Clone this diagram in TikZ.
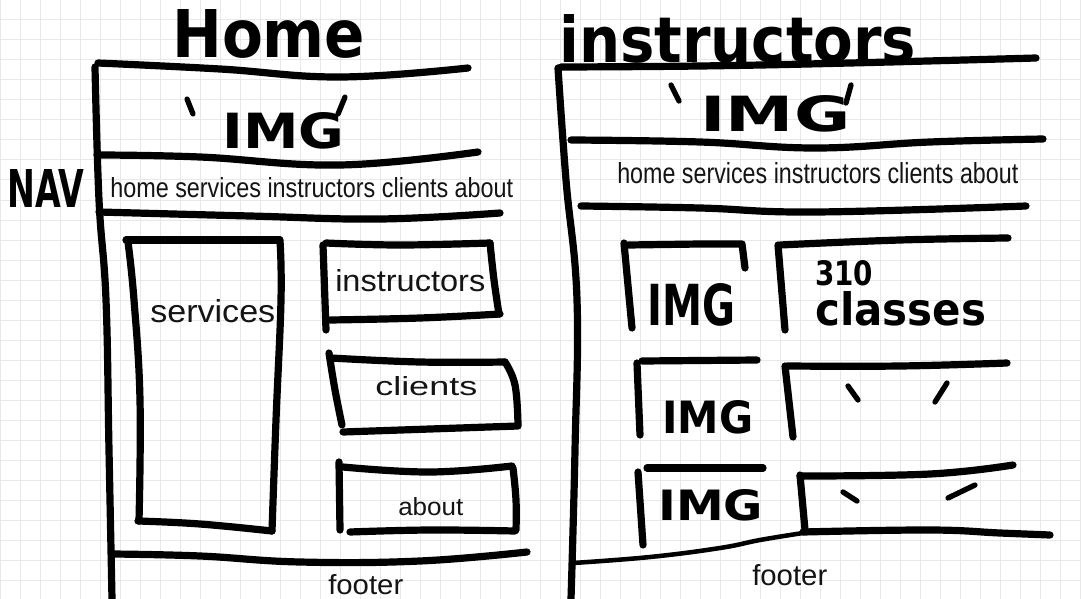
\documentclass[tikz,border=0pt]{standalone}
\usepackage{fontspec}
\usepackage{graphicx}
\setmainfont{Liberation Sans}
\newfontfamily\marker{DejaVu Sans}
\newdimen\pxu \pxu=0.75pt
% text squeezed into a box of w x h pixels
\newcommand{\fitbox}[3]{\resizebox{#1\pxu}{#2\pxu}{#3}}

\tikzset{
  ink/.style={line width=5.4pt, line cap=round, line join=round, black},
  thinink/.style={ink, line width=3.4pt},
  dittomark/.style={ink, line width=4pt},
  gridline/.style={draw=black!9, line width=0.75pt},
  typed/.style={inner sep=0pt, anchor=base west, text=black!92},
  hand/.style={inner sep=0pt, anchor=base west, font=\marker\bfseries},
}

\begin{document}
\begin{tikzpicture}[x=0.75pt, y=-0.75pt]
\useasboundingbox (0,0) rectangle (1081,599);
\fill[white] (0,0) rectangle (1081,599);
% graph paper
\foreach \gx in {0,20,...,1080} \draw[gridline] (\gx,0) -- (\gx,599);
\foreach \gy in {0,20,...,580} \draw[gridline] (0,\gy) -- (1081,\gy);

% ---------------- Home page ----------------
\node[hand] (homeTitle) at (172,58) {\fitbox{193}{48}{Home}};
\node[hand] (navLabel) at (7,207) {\fitbox{77}{38}{NAV}};

% frame
\draw[ink] plot[smooth, tension=0.7] coordinates {(98,63) (220,69) (340,77) (468,68)};
\draw[ink] plot[smooth, tension=0.7] coordinates {(95,67) (99,200) (106,300) (109,450) (112,599)};
\draw[ink] plot[smooth, tension=0.7] coordinates {(97,155) (200,157) (340,165) (478,152)};
\draw[ink] plot[smooth, tension=0.7] coordinates {(99,212) (250,216) (380,219) (500,213)};
\draw[ink] plot[smooth, tension=0.7] coordinates {(112,554) (200,556) (300,562) (420,561) (527,552)};

% header image
\node[hand] (imgL) at (222,148) {\fitbox{122}{36}{IMG}};
\draw[dittomark] (187,99) -- (193,114);
\draw[dittomark] (345,97) -- (338,114);

% navigation
\node[typed] (navL) at (110,198) {\fitbox{403}{20}{home services instructors clients about}};

% services column
\draw[ink] plot[smooth, tension=0.7] coordinates {(128,242) (134,300) (140,400) (139,521)};
\draw[ink] (126,240) -- (280,240);
\draw[ink] plot[smooth, tension=0.7] coordinates {(280,241) (281,300) (276,420) (272,531)};
\draw[ink] plot[smooth, tension=0.7] coordinates {(138,521) (200,524) (272,531)};
\node[typed] (servicesT) at (150,322) {\fitbox{125}{23}{services}};

% instructors box
\draw[ink] (323,245) -- (326,330);
\draw[ink] plot[smooth, tension=0.7] coordinates {(326,243) (400,245) (490,243)};
\draw[ink] plot[smooth, tension=0.7] coordinates {(490,243) (494,280) (499,314)};
\draw[ink] plot[smooth, tension=0.7] coordinates {(330,320) (420,318) (500,314)};
\node[typed] (instructorsT) at (335,291) {\fitbox{150}{22}{instructors}};

% clients box
\draw[ink] plot[smooth, tension=0.7] coordinates {(329,353) (335,390) (342,425)};
\draw[ink] plot[smooth, tension=0.7] coordinates {(331,358) (420,362) (505,362)};
\draw[ink] plot[smooth, tension=0.7] coordinates {(505,362) (515,385) (518,425)};
\draw[ink] plot[smooth, tension=0.7] coordinates {(343,432) (430,429) (518,426)};
\node[typed] (clientsT) at (375,395) {\fitbox{102}{19}{clients}};

% about box
\draw[ink] (339,462) -- (340,530);
\draw[ink] plot[smooth, tension=0.7] coordinates {(343,467) (430,472) (512,466)};
\draw[ink] plot[smooth, tension=0.7] coordinates {(513,468) (516,500) (516,530)};
\draw[ink] plot[smooth, tension=0.7] coordinates {(350,532) (430,530) (515,531)};
\node[typed] (aboutT) at (398,515) {\fitbox{65}{18}{about}};

\node[typed] (footerL) at (328,594) {\fitbox{75}{20}{footer}};

% ---------------- instructors page ----------------
\node[hand] (instrTitle) at (559,63) {\fitbox{357}{48}{instructors}};

% frame
\draw[ink] plot[smooth, tension=0.7] coordinates {(561,67) (700,66) (850,63) (1036,58)};
\draw[ink] plot[smooth, tension=0.7] coordinates {(558,68) (566,180) (577,300) (575,450) (571,599)};
\draw[ink] plot[smooth, tension=0.7] coordinates {(571,140) (700,142) (815,148) (930,142) (1043,139)};
\draw[ink] plot[smooth, tension=0.7] coordinates {(581,206) (700,208) (815,212) (1026,206)};

% header image
\node[hand] (imgR) at (700,132) {\fitbox{150}{36}{IMG}};
\draw[dittomark] (671,85) -- (679,101);
\draw[dittomark] (851,85) -- (846,103);

% navigation
\node[typed] (navR) at (617,183) {\fitbox{401}{21}{home services instructors clients about}};

% row 1
\draw[ink] (624,243) -- (632,328);
\draw[ink] (628,245) -- (700,244) -- (742,244) -- (745,268);
\node[hand] (img1) at (647,325) {\fitbox{88}{42}{IMG}};
\draw[ink] (778,245) -- (785,330);
\draw[ink] plot[smooth, tension=0.7] coordinates {(780,245) (900,240) (1008,238)};
\node[hand, align=left, anchor=north west] (classes1) at (815,260)
  {\fitbox{58}{25}{310}\\[3pt]\fitbox{171}{34}{classes}};

% row 2
\draw[ink] (637,363) -- (640,435);
\draw[ink] (642,361) -- (757,360);
\node[hand] (img2) at (662,433) {\fitbox{91}{33}{IMG}};
\draw[ink] (785,366) -- (793,437);
\draw[ink] plot[smooth, tension=0.7] coordinates {(787,366) (900,366) (1007,363)};
\draw[dittomark] (848,386) -- (858,400);
\draw[dittomark] (947,383) -- (935,402);

% row 3
\draw[ink] (638,472) -- (643,545);
\draw[ink] (647,468) -- (763,468);
\node[hand] (img3) at (658,520) {\fitbox{105}{31}{IMG}};
\draw[ink] (800,475) -- (805,530);
\draw[ink] plot[smooth, tension=0.7] coordinates {(800,476) (930,474) (1013,465)};
\draw[dittomark] (843,492) -- (857,501);
\draw[dittomark] (948,498) -- (975,485);
\draw[ink] plot[smooth, tension=0.7] coordinates {(803,532) (930,530) (1000,533) (1050,535)};

% footer rule
\draw[thinink] plot[smooth, tension=0.7] coordinates {(573,563) (650,557) (720,548) (760,540) (803,533)};
\node[typed] (footerR) at (752,585) {\fitbox{75}{21}{footer}};
\end{tikzpicture}
\end{document}
